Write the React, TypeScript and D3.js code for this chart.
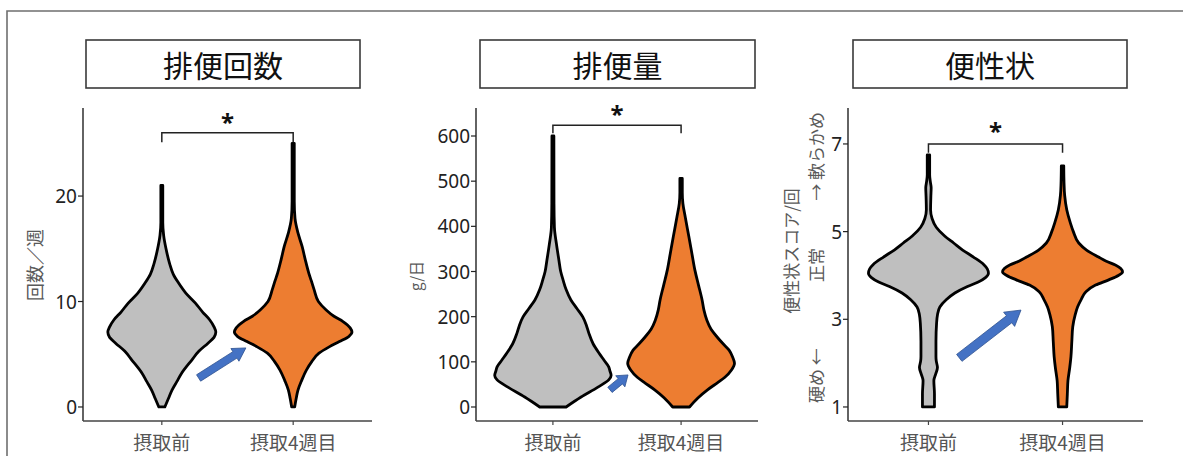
import React from 'react';
import * as d3 from 'd3';

// ---------- data ----------
const categories = ['摂取前', '摂取4週目'];
const panelTitles = ['排便回数', '排便量', '便性状'];

// Panel 1: 排便回数 (回数/週)
const freqTicks = [0, 10, 20];
const freqLimits = [-1.33, 28.35];
const freqBeforeValues = [0, 0.8, 1.6, 2.4, 3.2, 4.45, 5.3, 6.05, 6.6, 7.1, 7.6, 8.25, 9.0, 9.85, 10.8, 11.75, 12.6, 13.6, 15.0, 16.3, 17.5, 21];
const freqBeforeDensity = [5, 11, 17, 25, 33, 50, 62, 77, 87, 90, 87, 80, 68, 56, 40, 28, 19, 13, 7, 3, 1.6, 1.6];
const freqAfterValues = [0, 0.8, 1.6, 2.5, 3.5, 4.3, 5.1, 5.7, 6.2, 6.7, 7.1, 7.5, 8.1, 8.6, 9.2, 10.0, 11.1, 12.0, 12.7, 14.0, 15.2, 16.5, 17.9, 19.5, 25];
const freqAfterDensity = [2.5, 5, 8, 14, 22, 31, 43, 60, 77, 93, 98, 95, 83, 68, 55, 42, 35, 30, 26, 20, 15, 8, 3, 1.8, 1.8];
const freqBracket = [26.0, 25.1];
const freqStar = 27.4;
const freqArrow = [[0.28, 2.75], [0.64, 5.6]];

// Panel 2: 排便量 (g/日)
const amountTicks = [0, 100, 200, 300, 400, 500, 600];
const amountLimits = [-31, 662];
const amountBeforeValues = [0, 22, 44, 60, 70, 80, 89, 104, 119, 140, 163, 180, 199, 218, 237, 260, 281, 300, 325, 360, 398, 450, 600];
const amountBeforeDensity = [22, 47, 75, 93, 97, 95, 93, 85, 77, 67, 60, 56, 50, 40, 30, 22, 17, 13, 10, 6, 2.5, 1.8, 1.6];
const amountAfterValues = [0, 20, 38, 55, 66, 82, 97, 110, 126, 140, 155, 172, 192, 215, 237, 270, 303, 340, 377, 420, 451, 475, 506];
const amountAfterDensity = [14, 28, 44, 62, 73, 84, 89, 86, 80, 70, 60, 50, 43, 38, 35, 29, 23, 18, 13, 7, 3, 2, 2];
const amountBracket = [624, 606];
const amountStar = 657;
const amountArrow = [[0.445, 38], [0.586, 71]];

// Panel 3: 便性状 (スコア/回)
const shapeTicks = [1, 3, 5, 7];
const shapeLimits = [0.68, 7.82];
const shapeBeforeValues = [1.0, 1.3, 1.6, 1.75, 1.9, 2.05, 2.15, 2.5, 2.9, 3.1, 3.28, 3.45, 3.6, 3.75, 3.85, 3.95, 4.05, 4.15, 4.25, 4.42, 4.58, 4.74, 4.9, 5.1, 5.3, 5.5, 5.8, 6.0, 6.15, 6.3, 6.75];
const shapeBeforeDensity = [10, 10, 9, 12, 15, 13, 12.5, 12.5, 13.5, 15, 19, 30, 44, 65, 83, 95, 100, 98, 92, 75, 57, 42, 27, 13, 6, 3.5, 4, 4.5, 3, 2, 2];
const shapeAfterValues = [1.0, 1.3, 1.6, 1.9, 2.15, 2.5, 2.83, 3.1, 3.28, 3.45, 3.63, 3.78, 3.9, 4.0, 4.08, 4.16, 4.24, 4.33, 4.42, 4.58, 4.74, 5.0, 5.2, 5.5, 5.83, 6.1, 6.5];
const shapeAfterDensity = [7, 8, 9, 12, 14, 15.5, 17, 21, 25, 31, 39, 55, 77, 93, 100, 97, 88, 72, 60, 40, 27, 18, 13, 7, 3.5, 2.5, 2];
const shapeBracket = [7.0, 6.8];
const shapeStar = 7.39;
const shapeArrow = [[0.23, 2.12], [0.69, 3.21]];

// ---------- layout / style ----------
const W = 1183;
const H = 456;
const plotTop = 108;
const plotBottom = 421;
const titleTop = 40;
const titleBottom = 88;
const GRAY = '#BFBFBF';
const ORANGE = '#ED7D31';
const BLUE = '#4472C4';
const CJK = '"Noto Sans CJK JP", "Noto Sans", sans-serif';
const NUM = '"Noto Sans", "Open Sans", sans-serif';

const widthScale = d3.scaleLinear().domain([0, 100]).range([0, 60]);

type PanelSpec = {
  title: string;
  axisX: [number, number];
  titleX: [number, number];
  limits: number[];
  ticks: number[];
  violins: { values: number[]; density: number[]; fill: string }[];
  bracket: number[];
  star: number;
  arrow: number[][];
  arrowSize: [number, number, number];
};

const panels: PanelSpec[] = [
  {
    title: panelTitles[0],
    axisX: [83, 372],
    titleX: [86, 360],
    limits: freqLimits,
    ticks: freqTicks,
    violins: [
      { values: freqBeforeValues, density: freqBeforeDensity, fill: GRAY },
      { values: freqAfterValues, density: freqAfterDensity, fill: ORANGE },
    ],
    bracket: freqBracket,
    star: freqStar,
    arrow: freqArrow,
    arrowSize: [3.8, 7.5, 13],
  },
  {
    title: panelTitles[1],
    axisX: [476, 758],
    titleX: [480, 755],
    limits: amountLimits,
    ticks: amountTicks,
    violins: [
      { values: amountBeforeValues, density: amountBeforeDensity, fill: GRAY },
      { values: amountAfterValues, density: amountAfterDensity, fill: ORANGE },
    ],
    bracket: amountBracket,
    star: amountStar,
    arrow: amountArrow,
    arrowSize: [3.4, 7.2, 10],
  },
  {
    title: panelTitles[2],
    axisX: [848, 1143],
    titleX: [853, 1127],
    limits: shapeLimits,
    ticks: shapeTicks,
    violins: [
      { values: shapeBeforeValues, density: shapeBeforeDensity, fill: GRAY },
      { values: shapeAfterValues, density: shapeAfterDensity, fill: ORANGE },
    ],
    bracket: shapeBracket,
    star: shapeStar,
    arrow: shapeArrow,
    arrowSize: [4.4, 9, 15],
  },
];

function arrowPath(sx: number, sy: number, tx: number, ty: number, hw: number, hh: number, hl: number) {
  const dx = tx - sx;
  const dy = ty - sy;
  const len = Math.hypot(dx, dy);
  const ux = dx / len;
  const uy = dy / len;
  const nx = -uy;
  const ny = ux;
  const bx = tx - ux * hl;
  const by = ty - uy * hl;
  const pts = [
    [sx + nx * hw, sy + ny * hw],
    [bx + nx * hw, by + ny * hw],
    [bx + nx * hh, by + ny * hh],
    [tx, ty],
    [bx - nx * hh, by - ny * hh],
    [bx - nx * hw, by - ny * hw],
    [sx - nx * hw, sy - ny * hw],
  ];
  return 'M' + pts.map((p) => p[0].toFixed(2) + ',' + p[1].toFixed(2)).join('L') + 'Z';
}

function Panel({ p }: { p: PanelSpec }) {
  const y = d3.scaleLinear().domain(p.limits).range([plotBottom, plotTop]);
  const x = d3.scalePoint<string>().domain(categories).range(p.axisX).padding(0.6);
  const [ax0, ax1] = p.axisX;
  const cx0 = x(categories[0])!;
  const cx1 = x(categories[1])!;
  const step = cx1 - cx0;
  const titleCx = (p.titleX[0] + p.titleX[1]) / 2;

  const [a0, a1] = p.arrow;
  const [hw, hh, hl] = p.arrowSize;

  return (
    <g>
      {/* title box */}
      <rect
        x={p.titleX[0]}
        y={titleTop}
        width={p.titleX[1] - p.titleX[0]}
        height={titleBottom - titleTop}
        fill="#fff"
        stroke="#3a3a3a"
        strokeWidth={1.6}
      />
      <text
        x={titleCx}
        y={(titleTop + titleBottom) / 2}
        textAnchor="middle"
        dominantBaseline="central"
        fontFamily={CJK}
        fontSize={30}
        fill="#111"
      >
        {p.title}
      </text>

      {/* violins */}
      {p.violins.map((v, i) => {
        const cx = x(categories[i])!;
        const pts = v.values.map((val, k) => [val, v.density[k]] as [number, number]);
        const area = d3
          .area<[number, number]>()
          .y((d) => y(d[0]))
          .x0((d) => cx - widthScale(d[1]))
          .x1((d) => cx + widthScale(d[1]))
          .curve(d3.curveMonotoneY);
        return (
          <path
            key={i}
            d={area(pts) || ''}
            fill={v.fill}
            stroke="#000"
            strokeWidth={2.8}
            strokeLinejoin="round"
          />
        );
      })}

      {/* axes */}
      <line x1={ax0} x2={ax0} y1={plotTop} y2={plotBottom} stroke="#222" strokeWidth={1.4} />
      <line x1={ax0} x2={ax1} y1={plotBottom} y2={plotBottom} stroke="#444" strokeWidth={1.4} />
      {p.ticks.map((t) => (
        <g key={t}>
          <line x1={ax0 - 5} x2={ax0} y1={y(t)} y2={y(t)} stroke="#222" strokeWidth={1.2} />
          <text
            x={ax0 - 6}
            y={y(t)}
            textAnchor="end"
            dominantBaseline="central"
            fontFamily={NUM}
            fontSize={19}
            fill="#222"
          >
            {t}
          </text>
        </g>
      ))}
      {categories.map((c) => (
        <g key={c}>
          <line x1={x(c)} x2={x(c)} y1={plotBottom} y2={plotBottom + 4} stroke="#444" strokeWidth={1.2} />
          <text
            x={x(c)}
            y={450}
            textAnchor="middle"
            fontFamily={CJK}
            fontSize={19}
            fill="#555"
          >
            {c}
          </text>
        </g>
      ))}

      {/* significance bracket */}
      <path
        d={`M${cx0},${y(p.bracket[1])}L${cx0},${y(p.bracket[0])}L${cx1},${y(p.bracket[0])}L${cx1},${y(p.bracket[1])}`}
        fill="none"
        stroke="#222"
        strokeWidth={1.5}
      />
      <text
        x={(cx0 + cx1) / 2}
        y={y(p.star) + 13}
        textAnchor="middle"
        fontFamily={NUM}
        fontWeight="bold"
        fontSize={24}
        fill="#111"
      >
        *
      </text>

      {/* arrow */}
      <path
        d={arrowPath(cx0 + step * a0[0], y(a0[1]), cx0 + step * a1[0], y(a1[1]), hw, hh, hl)}
        fill={BLUE}
        stroke="#2F528F"
        strokeWidth={0.8}
      />
    </g>
  );
}

export default function App() {
  return (
    <svg
      width={W}
      height={H}
      viewBox={`0 0 ${W} ${H}`}
      style={{ position: 'absolute', left: 0, top: 0, background: '#fff' }}
    >
      <rect x={0} y={0} width={W} height={H} fill="#fff" />
      <path d={`M7,${H}L7,11L${W},11`} fill="none" stroke="#6f6f6f" strokeWidth={1.6} />

      {panels.map((p, i) => (
        <Panel key={i} p={p} />
      ))}

      {/* y axis titles */}
      <text
        transform={`translate(34,265) rotate(-90)`}
        textAnchor="middle"
        dominantBaseline="central"
        fontFamily={CJK}
        fontSize={18}
        fill="#595959"
      >
        回数／週
      </text>
      <text
        transform={`translate(415,276) rotate(-90)`}
        textAnchor="middle"
        dominantBaseline="central"
        fontFamily={CJK}
        fontSize={15}
        fill="#595959"
      >
        g/日
      </text>
      <text
        transform={`translate(790,251) rotate(-90)`}
        textAnchor="middle"
        dominantBaseline="central"
        fontFamily={CJK}
        fontSize={17}
        fill="#595959"
      >
        便性状スコア/回
      </text>
      <g fontFamily={CJK} fontSize={17} fill="#595959">
        <text transform={`translate(815,403) rotate(-90)`} textAnchor="start" dominantBaseline="central">
          硬め ←
        </text>
        <text transform={`translate(815,265) rotate(-90)`} textAnchor="middle" dominantBaseline="central">
          正常
        </text>
        <text transform={`translate(815,112) rotate(-90)`} textAnchor="end" dominantBaseline="central">
          → 軟らかめ
        </text>
      </g>
    </svg>
  );
}
